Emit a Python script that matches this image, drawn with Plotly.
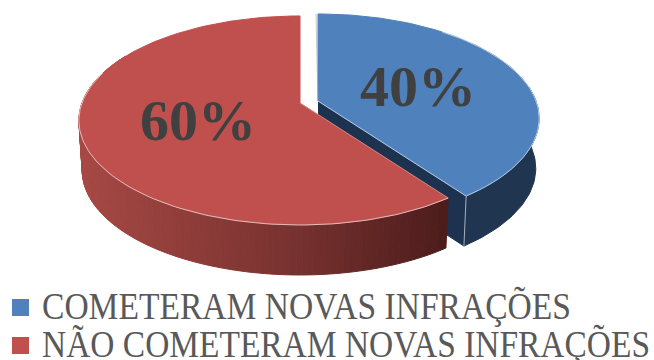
import numpy as np
import plotly.graph_objects as go

categories = ["COMETERAM NOVAS INFRAÇÕES", "NÃO COMETERAM NOVAS INFRAÇÕES"]
values = [40, 60]
top_colors = ["#4F81BD", "#C0504D"]
label_positions = [(418, 86), (198, 120)]
swatch_rows = [307.5, 345.5]
legend_rows = [306, 344]
legend_spans = [(42, 571), (42, 650)]

# Projection of the tilted disc onto the plot plane
RX, RY, TILT = 218.0, 101.6, 0.167
DEPTH, BASE_SCALE = 50.0, 0.985
RED_HUB = (300.0, 103.0)
BLUE_HUB = (318.0, 101.0)


def project(hub, degrees, base=False):
    t = np.radians(degrees)
    u, v = np.sin(t), np.cos(t)
    w = 1 + TILT * v
    scale = BASE_SCALE if base else 1.0
    x = hub[0] + scale * RX * u / w
    y = hub[1] - RY * v / w + (DEPTH if base else 0.0)
    return x, y


def polygon(fig, xs, ys, fill, line=None, width=1.0):
    fig.add_trace(go.Scatter(
        x=list(xs), y=list(ys), mode="lines", fill="toself", fillcolor=fill,
        line=dict(color=line or fill, width=width), hoverinfo="skip", showlegend=False,
    ))


def stroke(fig, xs, ys, color, width=1.0):
    fig.add_trace(go.Scatter(
        x=list(xs), y=list(ys), mode="lines",
        line=dict(color=color, width=width), hoverinfo="skip", showlegend=False,
    ))


def ramp(x):
    stops_x = [82, 290, 450]
    channels = [(166, 120, 75), (72, 50, 28), (68, 48, 27)]
    return "rgb({:.0f},{:.0f},{:.0f})".format(*(np.interp(x, stops_x, c) for c in channels))


fig = go.Figure()

blue_sweep = 360 * values[0] / sum(values)
RIM = "rgba(240,235,235,0.7)"

# Blue wedge: cut wall and outer rim
ax, ay = project(BLUE_HUB, blue_sweep)
bx, by = project(BLUE_HUB, blue_sweep, base=True)
hx, hy = BLUE_HUB
polygon(fig, [hx, ax, bx, hx], [hy, ay, by, hy + DEPTH], "#1C324E")

arc = np.linspace(blue_sweep, 82, 50)
tx, ty = project(BLUE_HUB, arc)
lx, ly = project(BLUE_HUB, arc[::-1], base=True)
polygon(fig, np.r_[tx, lx, tx[0]], np.r_[ty, ly, ty[0]], "#1F3550")
stroke(fig, [ax, bx], [ay, by], "rgba(200,205,215,0.8)")

# Red wedge: shaded rim built from narrow strips
edges = np.linspace(blue_sweep, 300, 120)
for a0, a1 in zip(edges[:-1], edges[1:]):
    x0, y0 = project(RED_HUB, a0)
    x1, y1 = project(RED_HUB, a1)
    x2, y2 = project(RED_HUB, a1, base=True)
    x3, y3 = project(RED_HUB, a0, base=True)
    polygon(fig, [x0, x1, x2, x3, x0], [y0, y1, y2, y3, y0], ramp((x0 + x1) / 2))

# Top faces of both wedges
arc = np.linspace(blue_sweep, 360, 160)
x, y = project(RED_HUB, arc)
polygon(fig, np.r_[RED_HUB[0], x, RED_HUB[0]], np.r_[RED_HUB[1], y, RED_HUB[1]], top_colors[1])

arc = np.linspace(0, blue_sweep, 110)
x, y = project(BLUE_HUB, arc)
polygon(fig, np.r_[hx, x, hx], np.r_[hy, y, hy], top_colors[0])

# Light edges along the front of the top faces
arc = np.linspace(blue_sweep, 288, 100)
x, y = project(RED_HUB, arc)
stroke(fig, x, y, RIM)
stroke(fig, [RED_HUB[0], x[0]], [RED_HUB[1], y[0]], "rgba(240,235,235,0.35)")

arc = np.linspace(40, blue_sweep, 50)
x, y = project(BLUE_HUB, arc)
stroke(fig, np.r_[x, hx], np.r_[y, hy], "rgba(225,232,242,0.7)")
stroke(fig, [hx, hx - 2], [hy, hy - 87], "rgba(150,160,175,0.6)")

# Legend swatches
fig.add_trace(go.Scatter(
    x=[20.5, 20.5], y=swatch_rows, mode="markers",
    marker=dict(symbol="square", size=17, color=top_colors), hoverinfo="skip", showlegend=False,
))

annotations = []
for value, (px, py) in zip(values, label_positions):
    annotations.append(dict(
        x=px, y=py, xref="x", yref="y", text=f"<b>{value}%</b>", showarrow=False,
        font=dict(family="Liberation Serif", size=58, color="#404040"),
    ))
for name, row, (left, right) in zip(categories, legend_rows, legend_spans):
    annotations.append(dict(
        x=(left + right) / 2, y=row, xref="x", yref="y", text=name, showarrow=False,
        width=right - left + 2,
        font=dict(family="Liberation Serif", size=38, color="#595959"),
    ))

fig.update_layout(
    width=654, height=360, autosize=False,
    margin=dict(l=0, r=0, t=0, b=0),
    paper_bgcolor="white", plot_bgcolor="white",
    xaxis=dict(range=[0, 654], visible=False, fixedrange=True),
    yaxis=dict(range=[360, 0], visible=False, fixedrange=True),
    annotations=annotations,
    showlegend=False,
)

# Condense the legend captions to their column widths
widths = [right - left for left, right in legend_spans]
condense = """
var labels = Array.from(document.querySelectorAll('.annotation-text')).slice(2);
var widths = %s;
labels.forEach(function (t, i) {
  t.setAttribute('textLength', widths[i]);
  t.setAttribute('lengthAdjust', 'spacingAndGlyphs');
});
""" % widths

fig.write_html("out.html", config={"displayModeBar": False}, post_script=condense)
